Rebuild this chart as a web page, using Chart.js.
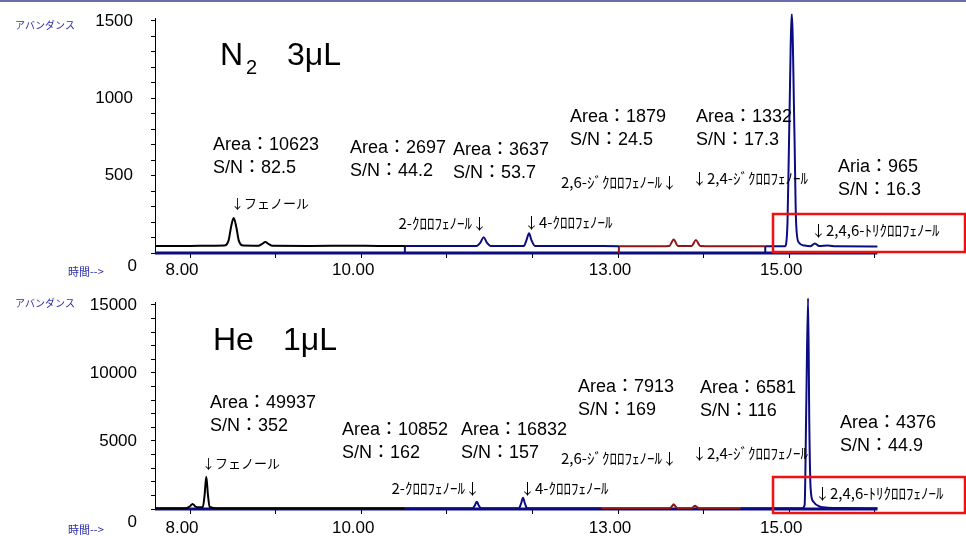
<!DOCTYPE html>
<html>
<head>
<meta charset="utf-8">
<script src="https://cdn.jsdelivr.net/npm/chart.js@4.4.1/dist/chart.umd.min.js"></script>
<style>
html, body { margin: 0; padding: 0; background: #fff; }
#wrap { position: relative; width: 966px; height: 536px; overflow: hidden; }
canvas { position: absolute; left: 0; }
#c1 { top: 0; }
#c2 { top: 280px; }
</style>
</head>
<body>
<div id="wrap">
  <canvas id="c1" width="966" height="280" style="width:966px;height:280px"></canvas>
  <canvas id="c2" width="966" height="256" style="width:966px;height:256px"></canvas>
</div>
<script>
// ---- data (time in min, abundance) ----
const n2Time = [7.59, 8.00, 8.30, 8.40, 8.45, 8.48, 8.51, 8.54, 8.57, 8.62, 8.80, 8.84, 8.88, 8.92, 8.96,
  9.40, 9.90, 10.20, 10.51, 11.00, 11.35, 11.39, 11.43, 11.47, 11.51, 11.90, 11.93, 11.96, 11.99, 12.03,
  12.50, 13.01, 13.50, 13.60, 13.65, 13.70, 13.86, 13.91, 13.96, 14.30, 14.72, 14.95, 14.98, 15.00,
  15.03, 15.06, 15.08, 15.11, 15.18, 15.25, 15.30, 15.35, 15.45, 15.55, 16.03];
const n2Abund = [45, 46, 47, 48, 80, 170, 226, 170, 80, 48, 47, 58, 71, 58, 47,
  46, 47, 46, 46, 45, 46, 66, 101, 66, 46, 46, 82, 127, 82, 46,
  45, 44, 44, 46, 88, 46, 46, 84, 46, 44, 43, 44, 200, 800,
  1545, 800, 200, 70, 48, 44, 62, 45, 48, 43, 42];

const heTime = [7.59, 7.95, 8.00, 8.03, 8.06, 8.10, 8.15, 8.17, 8.19, 8.21, 8.23, 8.30, 9.00, 10.00,
  10.51, 11.30, 11.33, 11.35, 11.37, 11.40, 11.84, 11.87, 11.89, 11.91, 11.94, 12.40, 12.81,
  13.60, 13.63, 13.65, 13.67, 13.70, 13.86, 13.88, 13.90, 13.92, 13.95, 14.43,
  15.10, 15.15, 15.18, 15.20, 15.22, 15.235, 15.25, 15.28, 15.36, 15.45, 15.60, 16.03];
const heAbund = [50, 60, 200, 370, 200, 125, 150, 1000, 2375, 1000, 150, 60, 50, 50,
  50, 55, 300, 540, 300, 55, 55, 450, 830, 450, 55, 50, 50,
  55, 200, 350, 200, 55, 55, 150, 240, 150, 55, 50,
  55, 60, 300, 8000, 15500, 6000, 1500, 550, 170, 100, 70, 60];

// where the trace colour changes (integration windows)
const n2Cuts = [7.59, 10.51, 13.01, 14.72, 16.03];
const heCuts = [7.59, 10.51, 12.81, 14.43, 16.03];
const segColors = ['#000000', '#0c0c82', '#8e1616', '#0c0c82'];

// axes
const xMinorTicks = [8, 9, 10, 11, 12, 13, 14, 15, 16];
const xLabelAt = [8, 10, 13, 15];
const xTickLabels = ['8.00', '10.00', '13.00', '15.00'];
const n2YLabels = [500, 1000, 1500];
const heYLabels = [5000, 10000, 15000];

// annotations
const n2AreaText = ['Area：10623', 'Area：2697', 'Area：3637', 'Area：1879', 'Area：1332', 'Aria：965'];
const n2SnText = ['S/N：82.5', 'S/N：44.2', 'S/N：53.7', 'S/N：24.5', 'S/N：17.3', 'S/N：16.3'];
const heAreaText = ['Area：49937', 'Area：10852', 'Area：16832', 'Area：7913', 'Area：6581', 'Area：4376'];
const heSnText = ['S/N：352', 'S/N：162', 'S/N：157', 'S/N：169', 'S/N：116', 'S/N：44.9'];
const compoundText = ['↓フェノール', '2-ｸﾛﾛﾌｪﾉｰﾙ↓', '↓4-ｸﾛﾛﾌｪﾉｰﾙ', '2,6-ｼﾞｸﾛﾛﾌｪﾉｰﾙ↓', '↓2,4-ｼﾞｸﾛﾛﾌｪﾉｰﾙ', '↓2,4,6-ﾄﾘｸﾛﾛﾌｪﾉｰﾙ'];

// page positions of the annotations
const n2AreaPos = [[213, 145], [350, 148], [453, 150], [570, 117], [696, 117], [838, 167]];
const heAreaPos = [[210, 403], [342, 430], [461, 430], [578, 387], [700, 388], [840, 423]];
const n2NamePos = [[231, 203, 'left'], [487, 223, 'right'], [524, 222, 'left'], [677, 182, 'right'], [692, 178, 'left'], [811, 230, 'left']];
const heNamePos = [[202, 463, 'left'], [480, 488, 'right'], [520, 488, 'left'], [677, 458, 'right'], [692, 453, 'left'], [815, 493, 'left']];

const NUM_FONT = '"Liberation Sans", Arial, "Noto Sans CJK JP", sans-serif';
const JP_FONT = '"Noto Sans CJK JP", sans-serif';
const NAVY = '#0c0c82';

function buildDatasets(time, abund, cuts) {
    const sets = [];
    for (let i = 0; i < cuts.length - 1; i++) {
        const pts = [];
        time.forEach((t, k) => {
            if (t >= cuts[i] && t <= cuts[i + 1]) pts.push({ x: t, y: abund[k] });
        });
        sets.push({
            data: pts,
            borderColor: segColors[i],
            borderWidth: 2,
            pointRadius: 0,
            cubicInterpolationMode: 'monotone',
            clip: { left: 0, right: 0, top: 5, bottom: 4 }
        });
        // vertical start of each window
        if (i > 0) {
            sets.push({
                data: [{ x: cuts[i], y: 0 }, pts[0]],
                borderColor: segColors[i],
                borderWidth: 2,
                pointRadius: 0,
                tension: 0
            });
        }
    }
    // thick baseline along zero
    sets.push({
        data: [{ x: cuts[0], y: 0 }, { x: cuts[cuts.length - 1], y: 0 }],
        borderColor: NAVY,
        borderWidth: 3,
        pointRadius: 0,
        clip: 4
    });
    return sets;
}

function textPlugin(cfg) {
    return {
        id: 'notes',
        afterDraw(chart) {
            const ctx = chart.ctx;
            const dy = cfg.offsetY;
            ctx.save();
            ctx.fillStyle = '#000';
            ctx.textBaseline = 'middle';

            // Area / S/N
            ctx.font = '18px ' + NUM_FONT;
            ctx.textAlign = 'left';
            cfg.areaText.forEach((t, i) => {
                const p = cfg.areaPos[i];
                ctx.fillText(t, p[0], p[1] - dy);
                ctx.fillText(cfg.snText[i], p[0], p[1] + 23 - dy);
            });

            // compound names
            compoundText.forEach((t, i) => {
                const p = cfg.namePos[i];
                ctx.font = (i === 0 ? '13px ' : '15px ') + JP_FONT;
                ctx.textAlign = p[2];
                ctx.fillText(t, p[0], p[1] - dy);
            });

            // title
            ctx.textBaseline = 'alphabetic';
            ctx.textAlign = 'left';
            cfg.title.forEach(part => {
                ctx.font = part[3] + 'px ' + NUM_FONT;
                ctx.fillText(part[0], part[1], part[2] - dy);
            });

            // side labels
            ctx.textBaseline = 'middle';
            ctx.fillStyle = '#2b2ba6';
            ctx.font = '10px ' + JP_FONT;
            ctx.fillText('アバンダンス', 15, cfg.abundY - dy);
            ctx.font = '11px ' + JP_FONT;
            ctx.fillText('時間-->', 68, cfg.timeY - dy);

            // zero label sits a little under the axis
            const y0 = chart.scales.y.getPixelForValue(0);
            ctx.fillStyle = '#000';
            ctx.font = '17px ' + NUM_FONT;
            ctx.textAlign = 'right';
            ctx.fillText('0', 137, y0 + 13);

            // red box round the 2,4,6 peak
            ctx.strokeStyle = '#ee1111';
            ctx.lineWidth = 2.5;
            const r = cfg.box;
            ctx.strokeRect(r[0], r[1] - dy, r[2] - r[0], r[3] - r[1]);

            if (cfg.topLine) {
                ctx.strokeStyle = '#6c6caa';
                ctx.lineWidth = 2;
                ctx.beginPath();
                ctx.moveTo(0, 1);
                ctx.lineTo(966, 1);
                ctx.stroke();
            }
            ctx.restore();
        }
    };
}

function makeChart(id, datasets, opt) {
    const yTicks = [];
    for (let v = 0; v <= opt.yTop; v += opt.yStep) yTicks.push(v);
    return new Chart(document.getElementById(id), {
        type: 'line',
        data: { datasets: datasets },
        options: {
            responsive: false,
            animation: false,
            events: [],
            layout: { padding: { top: opt.padTop, left: 0, right: 0, bottom: 0 } },
            plugins: { legend: { display: false }, tooltip: { enabled: false } },
            scales: {
                x: {
                    type: 'linear',
                    min: 7.591,
                    max: 17.065,
                    afterFit: s => { s.height = opt.xHeight; },
                    afterBuildTicks: s => {
                        s.min = 7.591;
                        s.max = 17.065;
                        s.ticks = xMinorTicks.map(v => ({ value: v }));
                    },
                    border: { display: false },
                    grid: { drawOnChartArea: false, drawTicks: true, tickLength: 5, color: '#000' },
                    ticks: {
                        autoSkip: false,
                        maxRotation: 0,
                        padding: opt.xPad,
                        labelOffset: -8,
                        color: '#000',
                        font: { family: NUM_FONT, size: 17 },
                        callback: v => {
                            const i = xLabelAt.indexOf(v);
                            return i >= 0 ? xTickLabels[i] : '';
                        }
                    }
                },
                y: {
                    min: 0,
                    max: opt.yMax,
                    afterFit: s => { s.width = 155; },
                    afterBuildTicks: s => {
                        s.min = 0;
                        s.max = opt.yMax;
                        s.ticks = yTicks.map(v => ({ value: v }));
                    },
                    border: { display: true, color: '#000', width: 1 },
                    grid: { drawOnChartArea: false, tickLength: 4, color: '#000' },
                    ticks: {
                        autoSkip: false,
                        padding: opt.yPad,
                        color: '#000',
                        // tiny line height so the label does not push the plot area down
                        font: { family: NUM_FONT, size: 17, lineHeight: 0.1 },
                        callback: v => opt.yLabels.includes(v) ? String(v) : ''
                    }
                }
            }
        },
        plugins: [textPlugin(opt.notes)]
    });
}

makeChart('c1', buildDatasets(n2Time, n2Abund, n2Cuts), {
    yMax: 1513, yTop: 1500, yStep: 100, yLabels: n2YLabels,
    padTop: 3, xHeight: 27, xPad: 2, yPad: 18,
    notes: {
        offsetY: 0,
        areaText: n2AreaText, snText: n2SnText, areaPos: n2AreaPos, namePos: n2NamePos,
        title: [['N', 220, 65, 32], ['2', 246, 74, 20], ['3μL', 287, 65, 32]],
        abundY: 25, timeY: 272,
        box: [773, 214, 965, 252],
        topLine: true
    }
});

makeChart('c2', buildDatasets(heTime, heAbund, heCuts), {
    yMax: 15220, yTop: 15000, yStep: 1000, yLabels: heYLabels,
    padTop: 22, xHeight: 27, xPad: 4, yPad: 14,
    notes: {
        offsetY: 280,
        areaText: heAreaText, snText: heSnText, areaPos: heAreaPos, namePos: heNamePos,
        title: [['He', 213, 350, 32], ['1μL', 283, 350, 32]],
        abundY: 303, timeY: 530,
        box: [773, 477, 965, 513],
        topLine: false
    }
});
</script>
</body>
</html>
